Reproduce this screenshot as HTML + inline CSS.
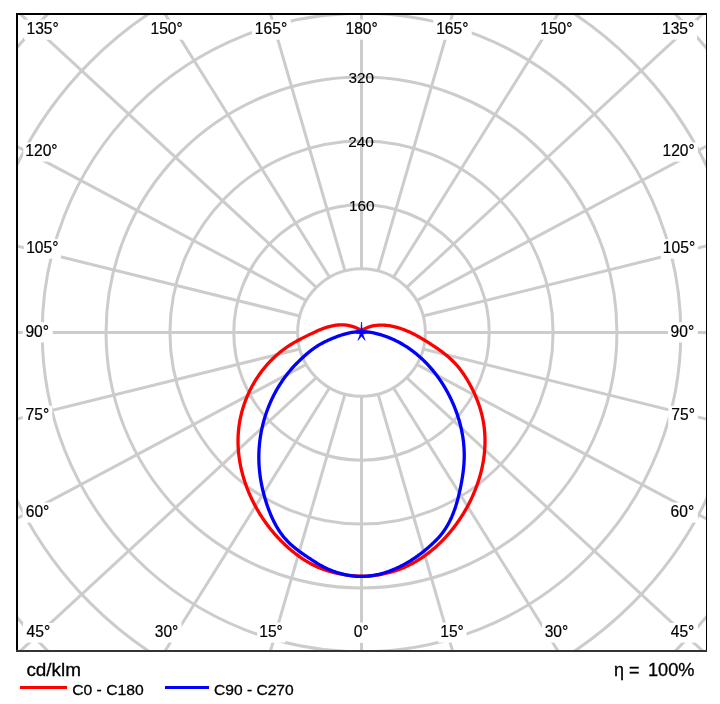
<!DOCTYPE html>
<html><head><meta charset="utf-8"><title>LDC</title>
<style>html,body{margin:0;padding:0;background:#fff;width:720px;height:704px;overflow:hidden}svg{display:block}</style>
</head><body>
<svg width="720" height="704" viewBox="0 0 720 704">
<defs><clipPath id="fr"><rect x="18" y="15" width="688" height="635"/></clipPath></defs>
<rect x="0" y="0" width="720" height="704" fill="#ffffff"/>
<g clip-path="url(#fr)">
<g fill="none" stroke="#cccccc" stroke-width="3">
<circle cx="361.50" cy="332.50" r="63.86"/>
<circle cx="361.50" cy="332.50" r="127.72"/>
<circle cx="361.50" cy="332.50" r="191.58"/>
<circle cx="361.50" cy="332.50" r="255.44"/>
<circle cx="361.50" cy="332.50" r="319.30"/>
<circle cx="361.50" cy="332.50" r="383.16"/>
<circle cx="361.50" cy="332.50" r="447.02"/>
</g>
<g stroke="#cccccc" stroke-width="3">
<line x1="361.50" y1="396.36" x2="361.50" y2="1396.36"/>
<line x1="378.03" y1="394.18" x2="658.33" y2="1360.11"/>
<line x1="393.43" y1="387.80" x2="934.93" y2="1253.83"/>
<line x1="406.66" y1="377.66" x2="1172.45" y2="1084.76"/>
<line x1="416.80" y1="364.43" x2="1354.71" y2="864.43"/>
<line x1="423.18" y1="349.03" x2="1469.28" y2="607.85"/>
<line x1="425.36" y1="332.50" x2="1508.36" y2="332.50"/>
<line x1="423.18" y1="315.97" x2="1469.28" y2="57.15"/>
<line x1="416.80" y1="300.57" x2="1354.71" y2="-199.43"/>
<line x1="406.66" y1="287.34" x2="1172.45" y2="-419.76"/>
<line x1="393.43" y1="277.20" x2="934.93" y2="-588.83"/>
<line x1="378.03" y1="270.82" x2="658.33" y2="-695.11"/>
<line x1="361.50" y1="268.64" x2="361.50" y2="-731.36"/>
<line x1="344.97" y1="270.82" x2="64.67" y2="-695.11"/>
<line x1="329.57" y1="277.20" x2="-211.93" y2="-588.83"/>
<line x1="316.34" y1="287.34" x2="-449.45" y2="-419.76"/>
<line x1="306.20" y1="300.57" x2="-631.71" y2="-199.43"/>
<line x1="299.82" y1="315.97" x2="-746.28" y2="57.15"/>
<line x1="297.64" y1="332.50" x2="-785.36" y2="332.50"/>
<line x1="299.82" y1="349.03" x2="-746.28" y2="607.85"/>
<line x1="306.20" y1="364.43" x2="-631.71" y2="864.43"/>
<line x1="316.34" y1="377.66" x2="-449.45" y2="1084.76"/>
<line x1="329.57" y1="387.80" x2="-211.93" y2="1253.83"/>
<line x1="344.97" y1="394.18" x2="64.67" y2="1360.11"/>
</g>
<g font-family="'Liberation Sans', Arial, sans-serif" font-size="15.3" fill="#000" stroke="#000" stroke-width="0.15">
<text x="361.38" y="82.60" text-anchor="middle">320</text>
<text x="361.05" y="147.00" text-anchor="middle">240</text>
<text x="361.75" y="210.90" text-anchor="middle">160</text>
</g>
<g fill="#ffffff">
<rect x="24.20" y="19.60" width="38.00" height="20.20"/>
<rect x="148.20" y="19.60" width="38.00" height="20.10"/>
<rect x="252.00" y="19.60" width="38.70" height="20.10"/>
<rect x="343.20" y="19.60" width="37.70" height="20.10"/>
<rect x="433.20" y="19.60" width="38.50" height="20.10"/>
<rect x="538.20" y="19.60" width="37.50" height="20.10"/>
<rect x="660.10" y="19.90" width="36.90" height="19.70"/>
<rect x="23.30" y="142.30" width="37.70" height="19.30"/>
<rect x="23.90" y="239.10" width="37.10" height="19.60"/>
<rect x="22.80" y="322.20" width="29.90" height="20.30"/>
<rect x="22.70" y="405.80" width="29.60" height="20.10"/>
<rect x="22.60" y="502.50" width="29.90" height="20.10"/>
<rect x="23.00" y="623.00" width="30.40" height="19.60"/>
<rect x="151.80" y="622.60" width="29.80" height="20.00"/>
<rect x="257.20" y="622.60" width="28.30" height="20.00"/>
<rect x="350.80" y="622.60" width="21.00" height="20.20"/>
<rect x="660.20" y="142.30" width="37.70" height="19.30"/>
<rect x="660.80" y="239.10" width="37.10" height="19.60"/>
<rect x="668.00" y="322.20" width="29.90" height="20.30"/>
<rect x="668.30" y="405.80" width="29.60" height="20.10"/>
<rect x="668.00" y="502.50" width="29.90" height="20.10"/>
<rect x="667.50" y="623.00" width="30.40" height="19.60"/>
<rect x="542.10" y="622.60" width="29.80" height="20.00"/>
<rect x="438.20" y="622.60" width="28.30" height="20.00"/>
</g>
<g font-family="'Liberation Sans', Arial, sans-serif" font-size="15.6" fill="#000" stroke="#000" stroke-width="0.2">
<text x="42.61" y="34.00" text-anchor="middle">135°</text>
<text x="166.61" y="33.90" text-anchor="middle">150°</text>
<text x="271.00" y="33.90" text-anchor="middle">165°</text>
<text x="361.62" y="33.90" text-anchor="middle">180°</text>
<text x="452.26" y="33.90" text-anchor="middle">165°</text>
<text x="556.36" y="33.90" text-anchor="middle">150°</text>
<text x="678.12" y="33.80" text-anchor="middle">135°</text>
<text x="41.48" y="155.80" text-anchor="middle">120°</text>
<text x="42.26" y="252.90" text-anchor="middle">105°</text>
<text x="37.24" y="336.70" text-anchor="middle">90°</text>
<text x="37.39" y="420.10" text-anchor="middle">75°</text>
<text x="37.52" y="516.80" text-anchor="middle">60°</text>
<text x="38.41" y="636.80" text-anchor="middle">45°</text>
<text x="166.51" y="636.80" text-anchor="middle">30°</text>
<text x="271.00" y="636.80" text-anchor="middle">15°</text>
<text x="361.27" y="637.00" text-anchor="middle">0°</text>
<text x="678.62" y="155.80" text-anchor="middle">120°</text>
<text x="679.00" y="252.90" text-anchor="middle">105°</text>
<text x="682.36" y="336.70" text-anchor="middle">90°</text>
<text x="683.15" y="420.10" text-anchor="middle">75°</text>
<text x="682.36" y="516.80" text-anchor="middle">60°</text>
<text x="682.51" y="636.80" text-anchor="middle">45°</text>
<text x="556.49" y="636.80" text-anchor="middle">30°</text>
<text x="452.00" y="636.80" text-anchor="middle">15°</text>
</g>
<path d="M361.50 330.80 L360.53 330.15 L359.55 329.54 L358.55 328.98 L357.54 328.45 L356.52 327.96 L355.48 327.51 L354.44 327.09 L353.38 326.72 L352.31 326.38 L351.24 326.07 L350.16 325.80 L349.07 325.57 L347.97 325.36 L346.87 325.20 L345.77 325.06 L344.66 324.96 L343.55 324.89 L342.44 324.85 L341.32 324.84 L340.21 324.86 L339.10 324.91 L337.99 324.99 L336.89 325.10 L335.78 325.23 L334.69 325.39 L333.59 325.58 L332.50 325.79 L331.42 326.02 L330.34 326.28 L329.26 326.56 L328.18 326.86 L327.11 327.18 L326.05 327.52 L324.98 327.88 L323.92 328.25 L322.87 328.64 L321.81 329.04 L320.76 329.45 L319.72 329.88 L318.67 330.32 L317.63 330.77 L316.59 331.23 L315.55 331.70 L314.52 332.17 L313.48 332.65 L312.45 333.14 L311.43 333.62 L310.40 334.12 L309.38 334.61 L308.35 335.11 L307.33 335.61 L306.31 336.11 L305.30 336.61 L304.29 337.12 L303.28 337.63 L302.27 338.14 L301.27 338.66 L300.27 339.18 L299.27 339.71 L298.28 340.25 L297.30 340.79 L296.31 341.33 L295.34 341.88 L294.36 342.44 L293.40 343.01 L292.43 343.58 L291.48 344.16 L290.53 344.75 L289.58 345.35 L288.64 345.96 L287.71 346.57 L286.79 347.20 L285.87 347.83 L284.96 348.48 L284.05 349.13 L283.15 349.80 L282.26 350.47 L281.38 351.16 L280.50 351.85 L279.64 352.56 L278.78 353.27 L277.92 353.99 L277.08 354.73 L276.24 355.47 L275.41 356.22 L274.58 356.98 L273.77 357.74 L272.96 358.52 L272.16 359.30 L271.37 360.10 L270.59 360.90 L269.81 361.71 L269.04 362.53 L268.28 363.35 L267.53 364.19 L266.79 365.03 L266.05 365.88 L265.32 366.73 L264.61 367.60 L263.90 368.47 L263.19 369.35 L262.50 370.23 L261.82 371.12 L261.14 372.02 L260.47 372.93 L259.81 373.84 L259.16 374.76 L258.52 375.69 L257.89 376.62 L257.26 377.56 L256.65 378.50 L256.04 379.45 L255.45 380.41 L254.86 381.37 L254.28 382.34 L253.71 383.31 L253.15 384.29 L252.60 385.28 L252.06 386.27 L251.53 387.26 L251.00 388.26 L250.49 389.27 L249.99 390.28 L249.49 391.29 L249.01 392.31 L248.54 393.33 L248.07 394.36 L247.62 395.39 L247.17 396.43 L246.74 397.47 L246.31 398.51 L245.90 399.56 L245.49 400.61 L245.10 401.67 L244.71 402.73 L244.34 403.79 L243.97 404.86 L243.62 405.93 L243.28 407.00 L242.94 408.07 L242.62 409.15 L242.31 410.23 L242.01 411.31 L241.72 412.40 L241.44 413.49 L241.17 414.58 L240.91 415.67 L240.66 416.76 L240.43 417.86 L240.20 418.96 L239.98 420.06 L239.78 421.16 L239.59 422.27 L239.41 423.37 L239.24 424.48 L239.08 425.58 L238.93 426.69 L238.79 427.80 L238.67 428.91 L238.56 430.02 L238.45 431.14 L238.36 432.25 L238.28 433.36 L238.21 434.48 L238.15 435.59 L238.11 436.71 L238.07 437.82 L238.04 438.94 L238.03 440.05 L238.03 441.17 L238.03 442.29 L238.05 443.40 L238.08 444.52 L238.11 445.63 L238.16 446.75 L238.22 447.86 L238.29 448.98 L238.37 450.09 L238.46 451.21 L238.56 452.32 L238.67 453.44 L238.79 454.55 L238.92 455.66 L239.06 456.77 L239.21 457.88 L239.37 458.99 L239.53 460.10 L239.71 461.20 L239.90 462.31 L240.10 463.41 L240.31 464.52 L240.52 465.62 L240.75 466.72 L240.98 467.82 L241.23 468.92 L241.48 470.01 L241.74 471.10 L242.01 472.20 L242.30 473.29 L242.59 474.37 L242.88 475.46 L243.19 476.55 L243.51 477.63 L243.83 478.71 L244.17 479.78 L244.51 480.86 L244.86 481.93 L245.22 483.00 L245.59 484.07 L245.96 485.13 L246.35 486.20 L246.74 487.26 L247.14 488.31 L247.55 489.37 L247.97 490.42 L248.39 491.46 L248.83 492.51 L249.27 493.55 L249.72 494.59 L250.17 495.62 L250.64 496.65 L251.11 497.68 L251.59 498.70 L252.08 499.72 L252.57 500.74 L253.08 501.75 L253.59 502.76 L254.10 503.77 L254.63 504.77 L255.16 505.77 L255.70 506.76 L256.24 507.75 L256.80 508.73 L257.36 509.71 L257.92 510.69 L258.50 511.66 L259.08 512.63 L259.67 513.59 L260.26 514.55 L260.86 515.50 L261.47 516.45 L262.08 517.39 L262.70 518.33 L263.33 519.26 L263.96 520.19 L264.60 521.12 L265.25 522.03 L265.90 522.95 L266.56 523.85 L267.23 524.76 L267.90 525.65 L268.57 526.54 L269.25 527.43 L269.94 528.31 L270.64 529.18 L271.34 530.05 L272.04 530.91 L272.76 531.77 L273.48 532.62 L274.20 533.47 L274.93 534.31 L275.67 535.14 L276.41 535.97 L277.16 536.79 L277.92 537.61 L278.68 538.42 L279.45 539.23 L280.22 540.03 L281.00 540.83 L281.79 541.62 L282.58 542.40 L283.38 543.18 L284.19 543.95 L285.00 544.72 L285.82 545.48 L286.64 546.24 L287.47 546.99 L288.31 547.74 L289.16 548.48 L290.01 549.21 L290.86 549.94 L291.73 550.66 L292.60 551.38 L293.47 552.09 L294.35 552.79 L295.24 553.49 L296.14 554.18 L297.04 554.86 L297.95 555.53 L298.86 556.20 L299.78 556.85 L300.71 557.50 L301.64 558.14 L302.57 558.77 L303.52 559.39 L304.47 560.01 L305.42 560.61 L306.38 561.20 L307.35 561.78 L308.32 562.35 L309.30 562.91 L310.29 563.45 L311.28 563.99 L312.27 564.51 L313.27 565.02 L314.28 565.52 L315.29 566.01 L316.31 566.48 L317.33 566.94 L318.36 567.39 L319.39 567.82 L320.43 568.24 L321.47 568.65 L322.52 569.04 L323.57 569.43 L324.62 569.80 L325.68 570.16 L326.75 570.51 L327.82 570.84 L328.89 571.17 L329.96 571.48 L331.04 571.78 L332.12 572.08 L333.21 572.36 L334.30 572.63 L335.39 572.89 L336.48 573.14 L337.58 573.38 L338.68 573.61 L339.78 573.83 L340.88 574.05 L341.98 574.25 L343.09 574.45 L344.20 574.63 L345.31 574.81 L346.42 574.98 L347.53 575.14 L348.64 575.29 L349.75 575.43 L350.87 575.56 L351.99 575.68 L353.10 575.79 L354.22 575.89 L355.34 575.98 L356.46 576.05 L357.57 576.12 L358.69 576.17 L359.81 576.21 L360.93 576.23 L362.05 576.24 L363.17 576.24 L364.29 576.22 L365.41 576.19 L366.53 576.14 L367.65 576.08 L368.77 576.01 L369.89 575.93 L371.01 575.83 L372.12 575.72 L373.24 575.60 L374.35 575.47 L375.47 575.32 L376.58 575.17 L377.69 575.00 L378.80 574.81 L379.91 574.62 L381.01 574.42 L382.12 574.20 L383.22 573.98 L384.32 573.74 L385.42 573.50 L386.52 573.24 L387.61 572.97 L388.70 572.70 L389.79 572.41 L390.88 572.11 L391.96 571.81 L393.05 571.49 L394.12 571.16 L395.20 570.82 L396.27 570.47 L397.33 570.11 L398.39 569.74 L399.45 569.35 L400.51 568.96 L401.55 568.55 L402.60 568.13 L403.64 567.70 L404.67 567.25 L405.70 566.79 L406.72 566.32 L407.74 565.84 L408.75 565.34 L409.75 564.83 L410.75 564.32 L411.75 563.79 L412.73 563.25 L413.71 562.70 L414.69 562.15 L415.66 561.58 L416.62 561.01 L417.58 560.43 L418.53 559.84 L419.48 559.24 L420.42 558.64 L421.36 558.02 L422.28 557.40 L423.21 556.77 L424.12 556.13 L425.04 555.49 L425.94 554.83 L426.84 554.17 L427.73 553.50 L428.62 552.83 L429.50 552.14 L430.37 551.45 L431.24 550.75 L432.11 550.04 L432.96 549.33 L433.81 548.61 L434.66 547.88 L435.50 547.14 L436.33 546.40 L437.15 545.65 L437.97 544.89 L438.79 544.13 L439.60 543.36 L440.40 542.58 L441.19 541.80 L441.98 541.00 L442.77 540.21 L443.54 539.40 L444.31 538.59 L445.08 537.78 L445.84 536.96 L446.59 536.13 L447.33 535.29 L448.07 534.45 L448.81 533.60 L449.53 532.75 L450.26 531.89 L450.97 531.03 L451.68 530.16 L452.38 529.28 L453.08 528.40 L453.76 527.51 L454.45 526.62 L455.12 525.72 L455.79 524.82 L456.46 523.91 L457.11 522.99 L457.77 522.07 L458.41 521.15 L459.05 520.22 L459.68 519.29 L460.30 518.35 L460.92 517.40 L461.54 516.45 L462.14 515.50 L462.74 514.54 L463.33 513.58 L463.92 512.61 L464.50 511.64 L465.07 510.67 L465.64 509.69 L466.20 508.70 L466.75 507.71 L467.29 506.72 L467.83 505.72 L468.36 504.72 L468.89 503.72 L469.40 502.71 L469.91 501.70 L470.41 500.68 L470.91 499.67 L471.40 498.64 L471.88 497.62 L472.35 496.59 L472.81 495.55 L473.27 494.52 L473.72 493.48 L474.16 492.44 L474.59 491.39 L475.02 490.34 L475.44 489.29 L475.85 488.24 L476.25 487.18 L476.64 486.12 L477.03 485.06 L477.40 483.99 L477.77 482.93 L478.13 481.86 L478.48 480.78 L478.83 479.71 L479.16 478.63 L479.49 477.55 L479.80 476.47 L480.11 475.39 L480.41 474.30 L480.70 473.22 L480.98 472.13 L481.26 471.04 L481.52 469.95 L481.77 468.85 L482.02 467.76 L482.26 466.66 L482.48 465.56 L482.70 464.46 L482.91 463.36 L483.11 462.26 L483.30 461.16 L483.48 460.05 L483.65 458.95 L483.81 457.84 L483.96 456.73 L484.10 455.63 L484.23 454.52 L484.35 453.41 L484.46 452.30 L484.56 451.19 L484.65 450.08 L484.73 448.97 L484.80 447.85 L484.86 446.74 L484.91 445.63 L484.95 444.52 L484.98 443.41 L485.00 442.29 L485.00 441.18 L485.00 440.07 L484.99 438.96 L484.96 437.85 L484.92 436.74 L484.88 435.63 L484.82 434.51 L484.75 433.41 L484.67 432.30 L484.58 431.19 L484.48 430.08 L484.37 428.97 L484.24 427.87 L484.11 426.76 L483.96 425.66 L483.80 424.56 L483.63 423.46 L483.45 422.36 L483.25 421.26 L483.05 420.16 L482.83 419.06 L482.60 417.97 L482.36 416.88 L482.11 415.78 L481.84 414.69 L481.57 413.61 L481.28 412.52 L480.98 411.44 L480.67 410.35 L480.35 409.28 L480.02 408.20 L479.68 407.12 L479.33 406.05 L478.96 404.98 L478.59 403.91 L478.21 402.85 L477.81 401.78 L477.41 400.73 L477.00 399.67 L476.58 398.61 L476.14 397.56 L475.70 396.52 L475.25 395.47 L474.79 394.43 L474.33 393.39 L473.85 392.36 L473.36 391.33 L472.87 390.30 L472.37 389.28 L471.86 388.26 L471.34 387.24 L470.81 386.23 L470.28 385.22 L469.74 384.22 L469.19 383.22 L468.63 382.22 L468.06 381.23 L467.49 380.25 L466.90 379.27 L466.31 378.30 L465.71 377.34 L465.10 376.38 L464.48 375.43 L463.86 374.49 L463.22 373.56 L462.58 372.63 L461.92 371.71 L461.26 370.81 L460.59 369.91 L459.90 369.02 L459.21 368.14 L458.51 367.28 L457.80 366.42 L457.08 365.58 L456.34 364.74 L455.60 363.92 L454.85 363.12 L454.09 362.32 L453.32 361.53 L452.53 360.76 L451.74 360.00 L450.94 359.24 L450.13 358.50 L449.31 357.77 L448.49 357.04 L447.65 356.33 L446.81 355.62 L445.96 354.92 L445.10 354.23 L444.23 353.54 L443.36 352.87 L442.47 352.20 L441.59 351.53 L440.69 350.87 L439.79 350.22 L438.88 349.57 L437.97 348.93 L437.05 348.29 L436.13 347.65 L435.20 347.02 L434.26 346.39 L433.32 345.77 L432.38 345.14 L431.43 344.52 L430.48 343.90 L429.52 343.29 L428.56 342.67 L427.59 342.06 L426.62 341.45 L425.65 340.84 L424.67 340.24 L423.68 339.65 L422.70 339.06 L421.71 338.47 L420.72 337.89 L419.72 337.32 L418.72 336.76 L417.71 336.20 L416.70 335.65 L415.69 335.11 L414.68 334.58 L413.66 334.06 L412.63 333.54 L411.61 333.04 L410.58 332.55 L409.55 332.07 L408.51 331.60 L407.47 331.15 L406.43 330.71 L405.39 330.28 L404.34 329.86 L403.29 329.46 L402.23 329.07 L401.18 328.70 L400.12 328.34 L399.05 328.00 L397.99 327.68 L396.92 327.37 L395.85 327.08 L394.78 326.81 L393.70 326.55 L392.62 326.32 L391.54 326.10 L390.46 325.91 L389.37 325.73 L388.28 325.58 L387.19 325.44 L386.10 325.33 L385.00 325.24 L383.91 325.17 L382.81 325.13 L381.71 325.10 L380.60 325.11 L379.50 325.13 L378.39 325.19 L377.29 325.27 L376.18 325.38 L375.08 325.52 L373.98 325.69 L372.89 325.89 L371.80 326.14 L370.72 326.41 L369.65 326.73 L368.59 327.08 L367.54 327.48 L366.50 327.92 L365.47 328.40 L364.45 328.93 L363.45 329.50 L362.47 330.13 L361.50 330.80" fill="none" stroke="#ff0000" stroke-width="3.3" stroke-linejoin="round"/>
<path d="M361.50 331.70 L360.49 331.68 L359.47 331.68 L358.46 331.71 L357.46 331.75 L356.45 331.82 L355.45 331.91 L354.46 332.02 L353.46 332.15 L352.47 332.30 L351.48 332.46 L350.49 332.65 L349.50 332.85 L348.52 333.06 L347.54 333.29 L346.57 333.54 L345.59 333.80 L344.62 334.07 L343.65 334.35 L342.68 334.65 L341.72 334.95 L340.76 335.27 L339.80 335.60 L338.84 335.93 L337.89 336.28 L336.94 336.63 L335.99 336.98 L335.05 337.35 L334.10 337.72 L333.16 338.09 L332.23 338.48 L331.29 338.87 L330.36 339.26 L329.44 339.67 L328.52 340.08 L327.60 340.50 L326.69 340.93 L325.78 341.37 L324.88 341.81 L323.98 342.26 L323.09 342.73 L322.20 343.20 L321.32 343.68 L320.44 344.17 L319.57 344.67 L318.71 345.18 L317.86 345.71 L317.01 346.24 L316.17 346.78 L315.33 347.34 L314.50 347.90 L313.69 348.48 L312.87 349.07 L312.07 349.67 L311.27 350.27 L310.48 350.89 L309.69 351.52 L308.91 352.15 L308.13 352.79 L307.36 353.44 L306.60 354.09 L305.84 354.75 L305.08 355.42 L304.33 356.09 L303.58 356.76 L302.83 357.44 L302.09 358.13 L301.35 358.82 L300.62 359.51 L299.89 360.21 L299.16 360.91 L298.44 361.61 L297.73 362.32 L297.01 363.04 L296.31 363.76 L295.61 364.48 L294.91 365.21 L294.22 365.95 L293.54 366.69 L292.86 367.43 L292.18 368.19 L291.52 368.94 L290.86 369.70 L290.20 370.47 L289.56 371.24 L288.92 372.02 L288.28 372.80 L287.65 373.59 L287.03 374.38 L286.41 375.17 L285.81 375.98 L285.20 376.78 L284.61 377.59 L284.02 378.41 L283.43 379.23 L282.85 380.05 L282.28 380.88 L281.72 381.72 L281.16 382.55 L280.61 383.40 L280.07 384.24 L279.53 385.09 L279.00 385.95 L278.47 386.81 L277.95 387.67 L277.44 388.54 L276.93 389.41 L276.44 390.28 L275.94 391.16 L275.46 392.04 L274.98 392.93 L274.51 393.82 L274.04 394.71 L273.58 395.61 L273.13 396.51 L272.69 397.41 L272.25 398.32 L271.82 399.23 L271.39 400.14 L270.97 401.06 L270.56 401.98 L270.16 402.90 L269.76 403.83 L269.37 404.76 L268.98 405.69 L268.61 406.62 L268.24 407.56 L267.87 408.50 L267.52 409.45 L267.17 410.39 L266.82 411.34 L266.49 412.29 L266.16 413.24 L265.84 414.20 L265.52 415.16 L265.22 416.12 L264.92 417.08 L264.62 418.05 L264.34 419.01 L264.06 419.98 L263.78 420.95 L263.52 421.93 L263.26 422.90 L263.01 423.88 L262.77 424.86 L262.53 425.84 L262.30 426.82 L262.08 427.81 L261.86 428.79 L261.66 429.78 L261.46 430.77 L261.26 431.76 L261.08 432.75 L260.90 433.74 L260.73 434.74 L260.56 435.73 L260.41 436.73 L260.26 437.73 L260.11 438.72 L259.98 439.72 L259.85 440.72 L259.73 441.73 L259.62 442.73 L259.52 443.73 L259.42 444.73 L259.33 445.74 L259.25 446.74 L259.17 447.75 L259.10 448.76 L259.04 449.76 L258.99 450.77 L258.94 451.78 L258.91 452.78 L258.88 453.79 L258.85 454.80 L258.84 455.81 L258.83 456.81 L258.83 457.82 L258.84 458.83 L258.86 459.84 L258.88 460.84 L258.91 461.85 L258.95 462.86 L259.00 463.87 L259.05 464.87 L259.11 465.88 L259.18 466.88 L259.26 467.89 L259.34 468.89 L259.43 469.90 L259.53 470.90 L259.64 471.90 L259.75 472.90 L259.87 473.91 L259.99 474.91 L260.13 475.91 L260.27 476.91 L260.42 477.90 L260.57 478.90 L260.73 479.90 L260.90 480.89 L261.08 481.89 L261.26 482.88 L261.45 483.87 L261.64 484.86 L261.85 485.85 L262.06 486.84 L262.27 487.83 L262.49 488.82 L262.72 489.80 L262.95 490.79 L263.20 491.77 L263.44 492.75 L263.70 493.73 L263.96 494.71 L264.22 495.68 L264.49 496.66 L264.77 497.63 L265.05 498.60 L265.34 499.57 L265.64 500.54 L265.94 501.51 L266.25 502.47 L266.56 503.44 L266.88 504.40 L267.20 505.36 L267.53 506.31 L267.87 507.27 L268.21 508.22 L268.56 509.17 L268.92 510.12 L269.28 511.06 L269.64 512.00 L270.02 512.94 L270.40 513.88 L270.79 514.81 L271.18 515.74 L271.58 516.66 L271.99 517.58 L272.41 518.50 L272.84 519.41 L273.27 520.31 L273.71 521.21 L274.16 522.11 L274.62 523.00 L275.09 523.89 L275.57 524.77 L276.05 525.64 L276.55 526.51 L277.05 527.37 L277.56 528.23 L278.09 529.08 L278.62 529.92 L279.16 530.76 L279.71 531.59 L280.28 532.41 L280.85 533.22 L281.44 534.03 L282.03 534.83 L282.64 535.62 L283.25 536.40 L283.88 537.18 L284.52 537.95 L285.17 538.70 L285.84 539.45 L286.51 540.19 L287.20 540.92 L287.90 541.65 L288.61 542.36 L289.33 543.06 L290.06 543.76 L290.80 544.44 L291.56 545.12 L292.32 545.79 L293.09 546.45 L293.87 547.11 L294.66 547.75 L295.45 548.39 L296.25 549.03 L297.06 549.66 L297.88 550.28 L298.69 550.89 L299.52 551.50 L300.35 552.10 L301.18 552.70 L302.02 553.29 L302.85 553.88 L303.70 554.46 L304.54 555.04 L305.38 555.61 L306.23 556.18 L307.08 556.75 L307.92 557.31 L308.77 557.87 L309.61 558.43 L310.45 558.98 L311.30 559.53 L312.14 560.08 L312.97 560.62 L313.81 561.16 L314.65 561.70 L315.49 562.23 L316.33 562.76 L317.17 563.28 L318.02 563.79 L318.86 564.30 L319.71 564.81 L320.57 565.30 L321.43 565.79 L322.30 566.27 L323.17 566.74 L324.05 567.20 L324.94 567.65 L325.83 568.09 L326.73 568.52 L327.64 568.94 L328.56 569.35 L329.48 569.75 L330.41 570.14 L331.34 570.52 L332.29 570.89 L333.23 571.25 L334.18 571.60 L335.14 571.93 L336.10 572.26 L337.07 572.57 L338.04 572.87 L339.02 573.17 L340.00 573.45 L340.98 573.71 L341.97 573.97 L342.96 574.21 L343.95 574.44 L344.95 574.66 L345.95 574.87 L346.95 575.07 L347.95 575.25 L348.96 575.42 L349.96 575.58 L350.97 575.72 L351.98 575.85 L352.99 575.97 L354.00 576.07 L355.02 576.16 L356.03 576.24 L357.04 576.31 L358.05 576.36 L359.06 576.39 L360.07 576.42 L361.08 576.43 L362.09 576.42 L363.09 576.40 L364.10 576.37 L365.10 576.32 L366.10 576.26 L367.10 576.19 L368.10 576.10 L369.10 576.00 L370.09 575.88 L371.09 575.76 L372.08 575.62 L373.07 575.46 L374.05 575.30 L375.04 575.12 L376.02 574.93 L377.00 574.73 L377.98 574.52 L378.95 574.30 L379.93 574.06 L380.90 573.81 L381.87 573.55 L382.83 573.28 L383.80 573.00 L384.76 572.71 L385.71 572.41 L386.67 572.10 L387.62 571.78 L388.57 571.44 L389.51 571.10 L390.46 570.75 L391.40 570.39 L392.33 570.02 L393.27 569.63 L394.19 569.24 L395.12 568.85 L396.04 568.44 L396.96 568.02 L397.88 567.60 L398.79 567.16 L399.70 566.72 L400.60 566.27 L401.51 565.81 L402.40 565.35 L403.30 564.87 L404.18 564.39 L405.07 563.90 L405.95 563.41 L406.83 562.91 L407.70 562.40 L408.57 561.88 L409.43 561.36 L410.29 560.83 L411.15 560.29 L412.00 559.75 L412.84 559.20 L413.69 558.65 L414.52 558.08 L415.36 557.52 L416.19 556.94 L417.01 556.36 L417.84 555.78 L418.65 555.19 L419.46 554.59 L420.27 553.98 L421.08 553.37 L421.88 552.76 L422.67 552.14 L423.46 551.51 L424.25 550.88 L425.04 550.24 L425.81 549.59 L426.59 548.95 L427.36 548.29 L428.13 547.63 L428.89 546.97 L429.65 546.30 L430.40 545.62 L431.15 544.94 L431.90 544.25 L432.64 543.56 L433.37 542.87 L434.11 542.16 L434.83 541.46 L435.55 540.75 L436.27 540.03 L436.97 539.30 L437.67 538.57 L438.35 537.83 L439.03 537.08 L439.69 536.33 L440.35 535.56 L440.99 534.79 L441.61 534.01 L442.23 533.22 L442.83 532.42 L443.42 531.62 L444.00 530.80 L444.56 529.98 L445.12 529.15 L445.66 528.32 L446.19 527.47 L446.71 526.62 L447.22 525.76 L447.72 524.90 L448.20 524.03 L448.68 523.15 L449.15 522.27 L449.60 521.38 L450.05 520.48 L450.48 519.58 L450.91 518.68 L451.33 517.76 L451.74 516.85 L452.13 515.92 L452.52 515.00 L452.90 514.07 L453.28 513.13 L453.64 512.19 L453.99 511.24 L454.34 510.29 L454.68 509.34 L455.01 508.38 L455.33 507.42 L455.65 506.46 L455.96 505.49 L456.26 504.52 L456.55 503.55 L456.84 502.57 L457.12 501.60 L457.40 500.62 L457.67 499.63 L457.93 498.65 L458.19 497.66 L458.44 496.67 L458.68 495.68 L458.92 494.69 L459.16 493.70 L459.39 492.70 L459.61 491.71 L459.83 490.71 L460.05 489.72 L460.26 488.72 L460.46 487.72 L460.67 486.73 L460.86 485.73 L461.06 484.73 L461.25 483.74 L461.44 482.74 L461.62 481.74 L461.79 480.75 L461.97 479.75 L462.13 478.75 L462.30 477.76 L462.45 476.76 L462.60 475.76 L462.75 474.77 L462.89 473.77 L463.02 472.77 L463.15 471.78 L463.27 470.78 L463.39 469.78 L463.50 468.79 L463.60 467.79 L463.70 466.79 L463.78 465.79 L463.87 464.80 L463.94 463.80 L464.01 462.80 L464.06 461.80 L464.11 460.80 L464.16 459.80 L464.19 458.81 L464.22 457.81 L464.24 456.81 L464.24 455.81 L464.24 454.81 L464.24 453.80 L464.22 452.80 L464.19 451.80 L464.16 450.80 L464.11 449.80 L464.06 448.80 L464.00 447.80 L463.93 446.80 L463.85 445.80 L463.77 444.80 L463.67 443.80 L463.57 442.80 L463.46 441.80 L463.34 440.80 L463.21 439.80 L463.08 438.80 L462.93 437.81 L462.78 436.81 L462.62 435.81 L462.45 434.82 L462.28 433.83 L462.09 432.83 L461.90 431.84 L461.70 430.85 L461.50 429.86 L461.28 428.88 L461.06 427.89 L460.83 426.91 L460.59 425.92 L460.35 424.94 L460.09 423.96 L459.83 422.98 L459.57 422.00 L459.29 421.03 L459.01 420.06 L458.72 419.09 L458.42 418.12 L458.12 417.15 L457.81 416.18 L457.49 415.22 L457.17 414.26 L456.84 413.30 L456.50 412.35 L456.15 411.39 L455.80 410.44 L455.44 409.49 L455.08 408.55 L454.70 407.60 L454.32 406.66 L453.94 405.72 L453.55 404.79 L453.15 403.86 L452.74 402.93 L452.33 402.00 L451.91 401.08 L451.49 400.16 L451.06 399.24 L450.62 398.33 L450.18 397.42 L449.73 396.51 L449.27 395.61 L448.81 394.71 L448.34 393.81 L447.87 392.92 L447.39 392.03 L446.91 391.15 L446.41 390.27 L445.92 389.39 L445.41 388.52 L444.90 387.65 L444.39 386.78 L443.87 385.92 L443.34 385.07 L442.81 384.21 L442.27 383.36 L441.72 382.52 L441.17 381.68 L440.61 380.84 L440.05 380.01 L439.48 379.19 L438.90 378.36 L438.32 377.55 L437.74 376.73 L437.14 375.93 L436.54 375.12 L435.94 374.32 L435.32 373.53 L434.71 372.74 L434.08 371.96 L433.45 371.18 L432.82 370.40 L432.18 369.64 L431.53 368.87 L430.87 368.11 L430.21 367.36 L429.55 366.61 L428.88 365.87 L428.20 365.13 L427.51 364.40 L426.82 363.67 L426.13 362.95 L425.42 362.24 L424.72 361.53 L424.00 360.83 L423.28 360.13 L422.55 359.43 L421.82 358.75 L421.08 358.07 L420.34 357.39 L419.59 356.73 L418.83 356.06 L418.07 355.41 L417.30 354.76 L416.53 354.11 L415.75 353.48 L414.96 352.85 L414.17 352.22 L413.37 351.61 L412.57 351.00 L411.76 350.39 L410.94 349.80 L410.12 349.21 L409.30 348.63 L408.47 348.06 L407.63 347.49 L406.79 346.93 L405.94 346.38 L405.09 345.84 L404.23 345.31 L403.37 344.78 L402.50 344.27 L401.63 343.76 L400.75 343.26 L399.87 342.77 L398.98 342.29 L398.09 341.82 L397.19 341.35 L396.29 340.90 L395.38 340.45 L394.47 340.02 L393.56 339.59 L392.63 339.17 L391.71 338.77 L390.78 338.37 L389.85 337.98 L388.91 337.61 L387.97 337.24 L387.02 336.88 L386.08 336.53 L385.12 336.19 L384.17 335.86 L383.21 335.54 L382.25 335.23 L381.29 334.92 L380.32 334.63 L379.35 334.35 L378.38 334.07 L377.41 333.81 L376.43 333.56 L375.46 333.32 L374.48 333.09 L373.49 332.88 L372.51 332.68 L371.52 332.50 L370.53 332.34 L369.54 332.19 L368.54 332.06 L367.54 331.94 L366.54 331.85 L365.54 331.78 L364.53 331.73 L363.52 331.69 L362.51 331.69 L361.50 331.70" fill="none" stroke="#0000ff" stroke-width="3.3" stroke-linejoin="round"/>
<g fill="#0000ff" stroke="#0000ff" stroke-width="0.7" stroke-linejoin="round">
<polygon points="361.5,322 362.1,329.8 370,332.6 362.7,334.0 365.0,340.3 361.5,336.0 358.0,340.3 360.3,334.0 353,332.6 360.9,329.8"/>
</g>
</g>
<rect x="16" y="13" width="691" height="2" fill="#000"/>
<rect x="16" y="13" width="2" height="639" fill="#000"/>
<rect x="706" y="13" width="1" height="639" fill="#000"/>
<rect x="16" y="650" width="691" height="2" fill="#333"/>
<g font-family="'Liberation Sans', Arial, sans-serif" fill="#000" stroke="#000" stroke-width="0.3">
<text x="26.4" y="675.9" font-size="18" textLength="54.6" lengthAdjust="spacingAndGlyphs">cd/klm</text>
<text y="675.8" font-size="18"><tspan x="613.9">η</tspan><tspan x="624.0"> = </tspan><tspan x="648.0" textLength="46.5" lengthAdjust="spacingAndGlyphs">100%</tspan></text>
<text x="72.2" y="694.7" font-size="15" textLength="71.5" lengthAdjust="spacingAndGlyphs">C0 - C180</text>
<text x="214.0" y="694.6" font-size="15" textLength="79.7" lengthAdjust="spacingAndGlyphs">C90 - C270</text>
</g>
<rect x="20" y="686" width="47" height="3" fill="#ff0000"/>
<rect x="165" y="686" width="44" height="3" fill="#0000ff"/>
</svg>
</body></html>
